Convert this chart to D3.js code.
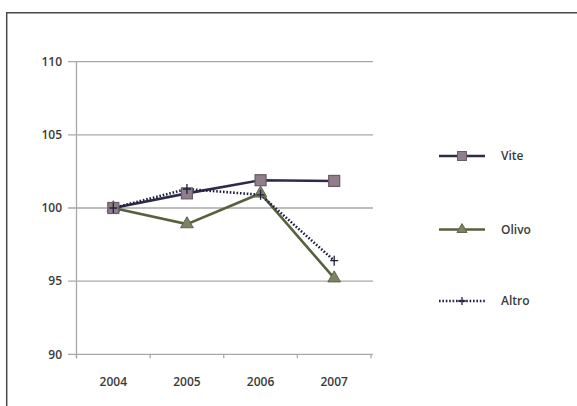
<!DOCTYPE html>
<html><head><meta charset="utf-8">
<script src="https://cdn.jsdelivr.net/npm/d3@7"></script>
<style>body{margin:0;background:#fff}svg{display:block}text{font-family:"Open Sans",sans-serif;fill:#3a3a3a;font-weight:600}</style>
</head><body>
<svg id="c" width="577" height="406"></svg>
<script>
const categories = ["2004","2005","2006","2007"];
const vite = [100, 101.0, 101.9, 101.85];
const olivo = [100, 98.9, 101.0, 95.2];
const altro = [100, 101.3, 100.9, 96.4];
const yTicks = [90, 95, 100, 105, 110];
const seriesNames = ["Vite","Olivo","Altro"];

const svg = d3.select("#c");
// frame
svg.append("path").attr("d","M6.7,406 V12.7 H577").attr("fill","none").attr("stroke","#4a4a4a").attr("stroke-width",1.5);

const x = d3.scaleBand().domain(categories).range([76.5, 371]);
const y = d3.scaleLinear().domain([90,110]).range([354.3, 61.7]);

// gridlines
svg.append("g").selectAll("line").data(yTicks).join("line")
  .attr("x1",68).attr("x2",373).attr("y1",d=>y(d)).attr("y2",d=>y(d))
  .attr("stroke","#a8a8a8").attr("stroke-width",1.3);
// y axis line
svg.append("line").attr("x1",76.5).attr("x2",76.5).attr("y1",y(110)).attr("y2",y(90)+4).attr("stroke","#a8a8a8").attr("stroke-width",1.3);
// x ticks
const bounds = categories.map(c=>x(c)).concat([x.range()[1]]);
svg.append("g").selectAll("line").data(bounds).join("line")
  .attr("x1",d=>d).attr("x2",d=>d).attr("y1",y(90)).attr("y2",y(90)+4)
  .attr("stroke","#a8a8a8").attr("stroke-width",1.3);
// y labels
svg.append("g").selectAll("text").data(yTicks).join("text")
  .attr("x",62).attr("y",d=>y(d)).attr("dy","0.35em").attr("text-anchor","end")
  .attr("font-size",12).text(d=>d);
// x labels
svg.append("g").selectAll("text").data(categories).join("text")
  .attr("x",d=>x(d)+x.bandwidth()/2).attr("y",382).attr("dy","0.35em").attr("text-anchor","middle")
  .attr("font-size",12).text(d=>d);

const cx = c => x(c)+x.bandwidth()/2;
const line = d3.line().x((d,i)=>cx(categories[i])).y(d=>y(d));

// Olivo
svg.append("path").datum(olivo).attr("d",line).attr("fill","none").attr("stroke","#58613e").attr("stroke-width",2.6);
// Vite
svg.append("path").datum(vite).attr("d",line).attr("fill","none").attr("stroke","#2d2b4b").attr("stroke-width",2.6);
// Altro
svg.append("path").datum(altro).attr("d",line).attr("fill","none").attr("stroke","#1f2142").attr("stroke-width",2.6).attr("stroke-dasharray","1.6,1.8");

const tri = d3.symbol().type(d3.symbolTriangle).size(70);
svg.append("g").selectAll("path").data(olivo).join("path")
  .attr("d",tri).attr("transform",(d,i)=>`translate(${cx(categories[i])},${y(d)})`)
  .attr("fill","#7c8466").attr("stroke","#5d6447").attr("stroke-width",1);
svg.append("g").selectAll("rect").data(vite).join("rect")
  .attr("x",(d,i)=>cx(categories[i])-5.5).attr("y",d=>y(d)-5.5).attr("width",11).attr("height",11)
  .attr("fill","#8f7e8b").attr("stroke","#6b5b68").attr("stroke-width",1.2);
svg.append("g").selectAll("path").data(altro).join("path")
  .attr("d",d3.symbol().type(d3.symbolCross).size(0)).attr("transform",(d,i)=>`translate(${cx(categories[i])},${y(d)})`);
svg.append("g").selectAll("path.plus").data(altro).join("path")
  .attr("d",(d,i)=>{const px=cx(categories[i]),py=y(d);return `M${px-4},${py}H${px+4}M${px},${py-5}V${py+5}`;})
  .attr("stroke","#1f2142").attr("stroke-width",1.3).attr("fill","none");

// legend
const ly = [156, 229.5, 301];
const lg = svg.append("g");
seriesNames.forEach((n,i)=>{
  const yy = ly[i];
  const col = ["#2d2b4b","#58613e","#1f2142"][i];
  const ln = lg.append("line").attr("x1",439).attr("x2",485).attr("y1",yy).attr("y2",yy).attr("stroke",col).attr("stroke-width",2.6);
  if(i===2) ln.attr("stroke-dasharray","1.6,1.8");
  if(i===0) lg.append("rect").attr("x",457.5).attr("y",yy-4.5).attr("width",9).attr("height",9).attr("fill","#8f7e8b").attr("stroke","#6b5b68");
  if(i===1) lg.append("path").attr("d",d3.symbol().type(d3.symbolTriangle).size(45)).attr("transform",`translate(462,${yy})`).attr("fill","#7c8466").attr("stroke","#5d6447");
  if(i===2) lg.append("path").attr("d",`M458,${yy}H466M462,${yy-4}V${yy+4}`).attr("stroke",col).attr("stroke-width",1.3);
  lg.append("text").attr("x",501).attr("y",yy).attr("dy","0.35em").attr("font-size",12).text(n);
});
</script>
</body></html>
